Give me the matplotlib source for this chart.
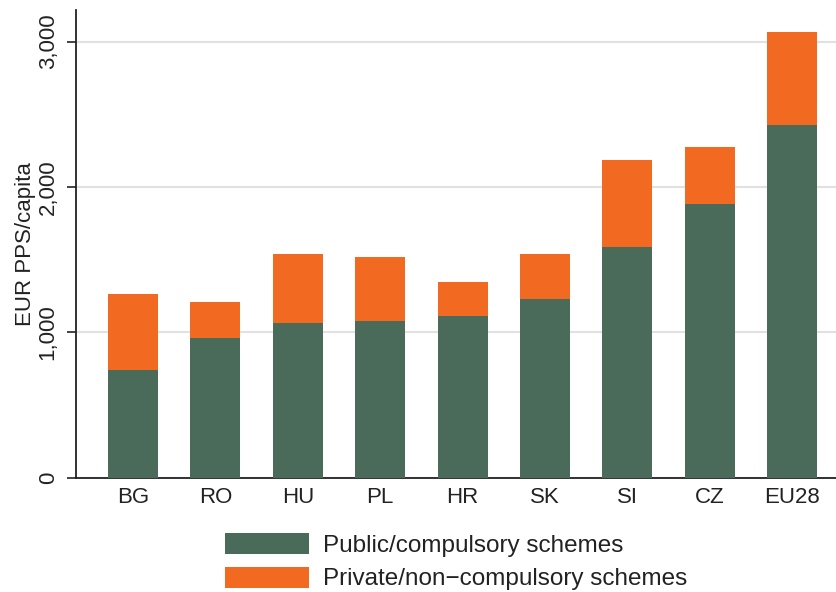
import matplotlib
matplotlib.use("Agg")
import matplotlib.pyplot as plt
from matplotlib.ticker import FuncFormatter, FixedLocator

countries = ["BG", "RO", "HU", "PL", "HR", "SK", "SI", "CZ", "EU28"]
public = [740, 960, 1063, 1077, 1111, 1228, 1586, 1882, 2426]
total = [1263, 1208, 1538, 1517, 1346, 1538, 2185, 2275, 3066]
private = [t - p for t, p in zip(total, public)]
yticks = [0, 1000, 2000, 3000]

GREEN = "#4a6a5a"
ORANGE = "#f26922"

plt.rcParams["font.family"] = ["Liberation Sans", "DejaVu Sans"]

fig = plt.figure(figsize=(8.36, 5.92), dpi=100)
ax = fig.add_axes([76 / 836, 1 - 477.5 / 592, 1 - 76 / 836, (477.5 - 10) / 592])

x = list(range(len(countries)))
w = 0.607
b1 = ax.bar(x, public, width=w, color=GREEN, label="Public/compulsory schemes", zorder=3)
b2 = ax.bar(x, private, width=w, bottom=public, color=ORANGE,
            label="Private/non\u2212compulsory schemes", zorder=3)

ax.set_xlim(-0.692, 8.534)
ax.set_ylim(0, 3217)
ax.yaxis.set_major_locator(FixedLocator(yticks))
ax.yaxis.set_major_formatter(FuncFormatter(lambda v, p: f"{int(v):,}"))
ax.grid(axis="y", color="#e1e1e1", linewidth=1.5, zorder=0)
ax.set_axisbelow(True)

ax.set_xticks(x)
ax.set_xticklabels(countries)
ax.tick_params(axis="x", length=0, pad=7, labelsize=16, colors="#222222")
ax.tick_params(axis="y", length=6.5, width=1.2, pad=6, labelsize=16, colors="#222222",
               direction="out")
for lab in ax.get_yticklabels():
    lab.set_rotation(90)
    lab.set_va("center")

for s in ["top", "right"]:
    ax.spines[s].set_visible(False)
for s in ["left", "bottom"]:
    ax.spines[s].set_color("#222222")
    ax.spines[s].set_linewidth(1.3)

ax.set_ylabel("EUR PPS/capita", fontsize=16, color="#222222")
ax.yaxis.set_label_coords(-0.053, 0.5)

leg = fig.legend(handles=[b1, b2], loc="upper left",
                 bbox_to_anchor=(225 / 836, 1 - 533 / 592),
                 bbox_transform=fig.transFigure,
                 frameon=False, fontsize=17.5, borderpad=0, borderaxespad=0,
                 handlelength=3.45, handleheight=0.95, handletextpad=0.58,
                 labelspacing=0.4)
for t in leg.get_texts():
    t.set_color("#222222")

fig.savefig("out.png", dpi=100)
